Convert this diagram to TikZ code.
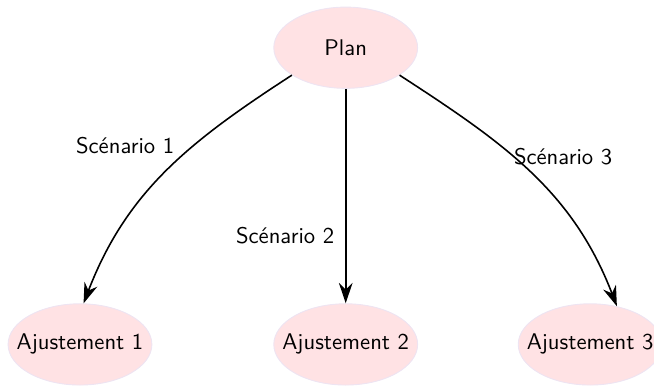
\documentclass[tikz,border=0pt]{standalone}
\usepackage{tikz}
\usetikzlibrary{shapes.geometric, arrows.meta, positioning}
\definecolor{stagefill}{RGB}{255, 226, 228}
\definecolor{stageedge}{RGB}{238, 228, 242}
\tikzset{
    stage/.style={ellipse, draw=stageedge, fill=stagefill, minimum width=2.23cm, minimum height=1.26cm, inner xsep=-0.2cm, font=\sffamily},
    arrow/.style={line width=0.7pt,->,>={Stealth[length=9pt,width=6pt]},black},
    scenario/.style={font=\sffamily, inner sep=1pt}
}

\begin{document}
\begin{tikzpicture}
    \useasboundingbox (0,0) rectangle (10.14,5.98);

    % Plan
    \node[stage] (plan) at (5.36, 5.24) {Plan};

    % Ajustements
    \node[stage] (aj1) at (1.24, 0.64) {Ajustement 1};
    \node[stage] (aj2) at (5.36, 0.64) {Ajustement 2};
    \node[stage] (aj3) at (9.15, 0.64) {Ajustement 3};

    % Scenario labels
    \node[scenario] (sc1) at (1.94, 3.72) {Scénario 1};
    \node[scenario] (sc2) at (4.42, 2.33) {Scénario 2};
    \node[scenario] (sc3) at (8.73, 3.55) {Scénario 3};

    % Arrows
    \draw[arrow] (plan.207) to[out=213, in=69] (aj1.85);
    \draw[arrow] (plan) -- (aj2);
    \draw[arrow] (plan.-27) to[out=-33, in=111] (aj3.55);
\end{tikzpicture}
\end{document}
